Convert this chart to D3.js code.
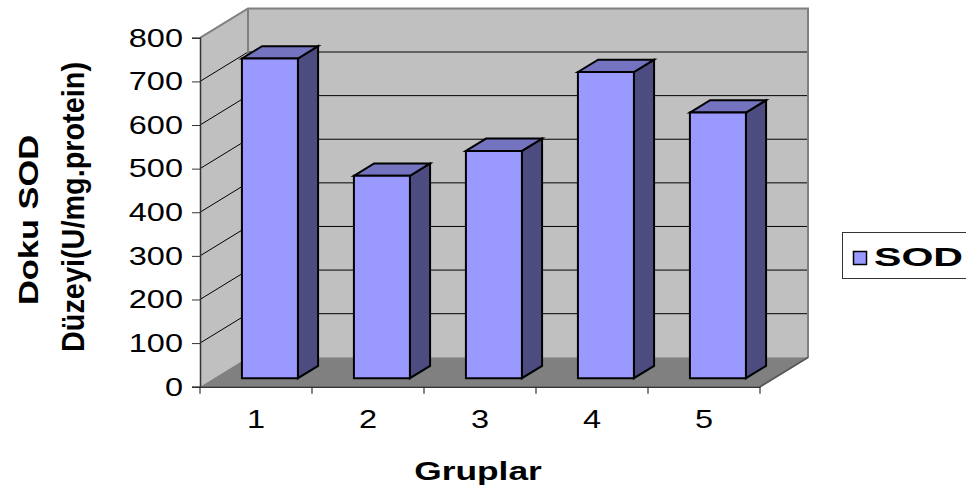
<!DOCTYPE html>
<html>
<head>
<meta charset="utf-8">
<script src="https://cdn.jsdelivr.net/npm/d3@7"></script>
<style>
  html, body { margin: 0; padding: 0; background: #fff; }
  svg { display: block; font-family: "Liberation Sans", Arial, sans-serif; }
</style>
</head>
<body>
<svg id="chart" width="966" height="490"></svg>
<script>
// SOD levels per group
const categories = ["1", "2", "3", "4", "5"];
const sodValues = [733, 464, 521, 702, 609];
const yTicks = [0, 100, 200, 300, 400, 500, 600, 700, 800];
const seriesName = "SOD";
const xTitle = "Gruplar";
const yTitleLines = ["Doku SOD", "Düzeyi(U/mg.protein)"];

const svg = d3.select("#chart");
const FONT = "'Liberation Sans', Arial, sans-serif";
const SX = 1.25; // wide glyph scaling used for the tick labels

// Front plane scales; the depth vector shifts points toward the back wall
const x = d3.scaleBand().domain(categories).range([200, 760]).paddingInner(0).paddingOuter(0);
const y = d3.scaleLinear().domain([0, 800]).range([386.7, 37.8]);
const DX = 48, DY = -29.4;
const P = (px, py, z) => [px + z * DX, py + z * DY];

const x0 = x.range()[0], x1 = x.range()[1];
const yTop = y(800), yBot = y(0);

// Walls and floor
const pts = a => a.map(p => p.join(",")).join(" ");
svg.append("polygon")
  .attr("points", pts([P(x0, yTop, 0), P(x0, yTop, 1), P(x0, yBot, 1), P(x0, yBot, 0)]))
  .attr("fill", "#c0c0c0");
svg.append("polygon")
  .attr("points", pts([P(x0, yTop, 1), P(x1, yTop, 1), P(x1, yBot, 1), P(x0, yBot, 1)]))
  .attr("fill", "#c0c0c0");
svg.append("polygon")
  .attr("points", pts([P(x0, yBot, 0), P(x1, yBot, 0), P(x1, yBot, 1), P(x0, yBot, 1)]))
  .attr("fill", "#808080");

// Gridlines on side wall and back wall
const grid = yTicks.filter(v => v > 0 && v < 800);
svg.append("g").selectAll("path").data(grid).join("path")
  .attr("d", v => {
    const a = P(x0, y(v), 0), b = P(x0, y(v), 1), c = P(x1, y(v), 1);
    return `M${a}L${b}L${c}`;
  })
  .attr("fill", "none").attr("stroke", "#000").attr("stroke-width", 1);

// Wall borders
svg.append("path")
  .attr("d", () => {
    const a = P(x0, yTop, 0), b = P(x0, yTop, 1), c = P(x1, yTop, 1), d = P(x1, yBot, 1), e = P(x1, yBot, 0);
    const f = P(x0, yBot, 1);
    return `M${a}L${b}L${c}L${d}L${e}M${b}L${f}`;
  })
  .attr("fill", "none").attr("stroke", "#808080").attr("stroke-width", 2);

// 3D bars
const zF = 0.29, zB = 0.71;
const bw = x.bandwidth() / 2;
const bars = svg.append("g").selectAll("g").data(categories.map((c, i) => ({ c, v: sodValues[i] }))).join("g");
bars.each(function(d) {
  const g = d3.select(this);
  const l = x(d.c) + x.bandwidth() / 2 - bw / 2, r = l + bw;
  const t = y(d.v), b = y(0);
  const face = [P(l, t, zF), P(r, t, zF), P(r, b, zF), P(l, b, zF)];
  const side = [P(r, t, zF), P(r, t, zB), P(r, b, zB), P(r, b, zF)];
  const top = [P(l, t, zF), P(l, t, zB), P(r, t, zB), P(r, t, zF)];
  [[side, "#4c4c80"], [top, "#7373bf"], [face, "#9999ff"]].forEach(([p, f]) => {
    g.append("polygon").attr("points", pts(p)).attr("fill", f)
      .attr("stroke", "#000").attr("stroke-width", 2).attr("stroke-linejoin", "miter");
  });
});

// Y axis
const yAxis = svg.append("g").attr("transform", `translate(${x0},0)`)
  .call(d3.axisLeft(y).tickValues(yTicks).tickSize(8).tickPadding(9).tickFormat(d3.format("d")));
yAxis.select(".domain").attr("stroke", "#333").attr("stroke-width", 1.5);
yAxis.selectAll(".tick line").attr("stroke", "#333");
yAxis.selectAll("text")
  .attr("x", 0)
  .attr("transform", `translate(-17,0) scale(${SX},1)`)
  .attr("font-size", 26).attr("fill", "#000").attr("font-family", FONT);

// X axis: labels at category centres, ticks at category boundaries
const xAxis = svg.append("g").attr("transform", `translate(0,${yBot})`)
  .call(d3.axisBottom(x).tickSize(0).tickPadding(23));
xAxis.select(".domain").attr("stroke", "#333").attr("stroke-width", 1.5);
xAxis.selectAll("text")
  .attr("transform", `scale(${SX},1)`)
  .attr("font-size", 26).attr("fill", "#000").attr("font-family", FONT);
const bounds = categories.map(c => x(c)).concat([x1]);
xAxis.append("g").selectAll("line").data(bounds).join("line")
  .attr("x1", d => d).attr("x2", d => d).attr("y1", 0).attr("y2", 7)
  .attr("stroke", "#333").attr("stroke-width", 1.2);
svg.append("line")
  .attr("x1", P(x1, yBot, 0)[0]).attr("y1", yBot)
  .attr("x2", P(x1, yBot, 1)[0]).attr("y2", P(x1, yBot, 1)[1])
  .attr("stroke", "#555").attr("stroke-width", 1.5);

// Axis titles
svg.append("text").text(xTitle)
  .attr("transform", `translate(478,480) scale(1.36,1)`)
  .attr("text-anchor", "middle")
  .attr("font-size", 26).attr("font-weight", "bold");

const yt = [
  { t: yTitleLines[0], bx: 38, cy: 220, len: 170, fs: 28 },
  { t: yTitleLines[1], bx: 84, cy: 207, len: 290, fs: 32 }
];
svg.append("g").selectAll("text").data(yt).join("text")
  .text(d => d.t)
  .attr("transform", d => `translate(${d.bx},${d.cy}) rotate(-90)`)
  .attr("text-anchor", "middle")
  .attr("font-size", d => d.fs).attr("font-weight", "bold")
  .attr("textLength", d => d.len).attr("lengthAdjust", "spacingAndGlyphs");

// Legend
const lg = svg.append("g");
lg.append("rect").attr("x", 842.5).attr("y", 232.5).attr("width", 200).attr("height", 46)
  .attr("fill", "#fff").attr("stroke", "#333").attr("stroke-width", 1);
lg.append("rect").attr("x", 853.5).attr("y", 251.5).attr("width", 13).attr("height", 13)
  .attr("fill", "#9999ff").attr("stroke", "#000").attr("stroke-width", 1.5);
lg.append("text").text(seriesName).attr("x", 874).attr("y", 266)
  .attr("font-size", 25).attr("font-weight", "bold")
  .attr("textLength", 89).attr("lengthAdjust", "spacingAndGlyphs");
</script>
</body>
</html>
